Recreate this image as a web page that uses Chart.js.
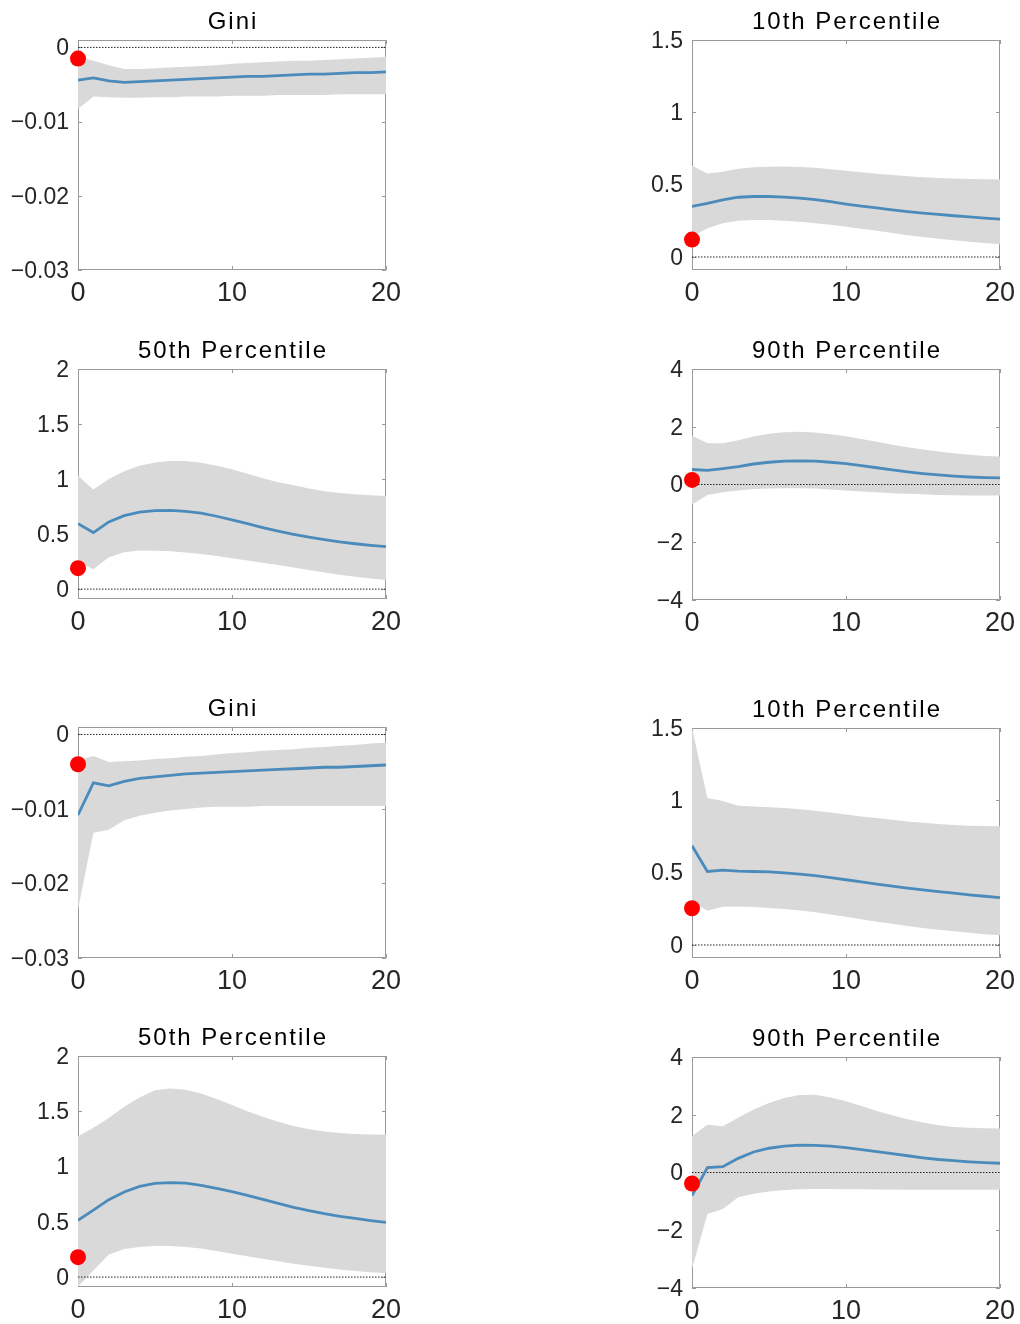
<!DOCTYPE html>
<html>
<head>
<meta charset="utf-8">
<script src="https://cdn.jsdelivr.net/npm/chart.js@4.4.1/dist/chart.umd.min.js"></script>
<style>
  html, body { margin: 0; padding: 0; background: #ffffff; }
  body { width: 1020px; height: 1324px; position: relative; overflow: hidden; }
  canvas.panel { position: absolute; }
</style>
</head>
<body>
<script>
// Horizon (periods after the shock) and axis tick values
const steps = [0, 1, 2, 3, 4, 5, 6, 7, 8, 9, 10, 11, 12, 13, 14, 15, 16, 17, 18, 19, 20];
const stepTicks = [0, 10, 20];
const giniTicks = [-0.03, -0.02, -0.01, 0];
const p10Ticks = [0, 0.5, 1, 1.5];
const p50Ticks = [0, 0.5, 1, 1.5, 2];
const p90Ticks = [-4, -2, 0, 2, 4];

// Upper block: response, band bounds and impact estimate
const giniMidA = [-0.0044, -0.0041, -0.0045, -0.0047, -0.0046, -0.0045, -0.0044, -0.0043, -0.0042, -0.0041, -0.0040, -0.0039, -0.0039, -0.0038, -0.0037, -0.0036, -0.0036, -0.0035, -0.0034, -0.0034, -0.0033];
const giniHiA  = [-0.0012, -0.0018, -0.0024, -0.0029, -0.0029, -0.0028, -0.0027, -0.0026, -0.0025, -0.0024, -0.0022, -0.0021, -0.0020, -0.0019, -0.0018, -0.0018, -0.0017, -0.0016, -0.0015, -0.0014, -0.0013];
const giniLoA  = [-0.0083, -0.0066, -0.0067, -0.0068, -0.0068, -0.0067, -0.0067, -0.0066, -0.0066, -0.0066, -0.0065, -0.0065, -0.0065, -0.0064, -0.0064, -0.0064, -0.0064, -0.0063, -0.0063, -0.0063, -0.0063];
const giniDotA = -0.0015;

const p10MidA = [0.35, 0.37, 0.395, 0.413, 0.418, 0.418, 0.414, 0.407, 0.396, 0.382, 0.366, 0.352, 0.339, 0.326, 0.314, 0.303, 0.294, 0.285, 0.277, 0.269, 0.262];
const p10HiA  = [0.63, 0.577, 0.59, 0.61, 0.62, 0.623, 0.625, 0.622, 0.616, 0.607, 0.596, 0.585, 0.575, 0.566, 0.558, 0.551, 0.546, 0.542, 0.539, 0.537, 0.536];
const p10LoA  = [0.14, 0.198, 0.233, 0.251, 0.256, 0.255, 0.25, 0.243, 0.234, 0.222, 0.209, 0.195, 0.181, 0.166, 0.151, 0.138, 0.126, 0.115, 0.105, 0.096, 0.088];
const p10DotA = 0.12;

const p50MidA = [0.595, 0.514, 0.61, 0.668, 0.70, 0.713, 0.716, 0.707, 0.69, 0.662, 0.629, 0.594, 0.559, 0.527, 0.498, 0.472, 0.45, 0.429, 0.412, 0.397, 0.385];
const p50HiA  = [1.03, 0.905, 1.0, 1.07, 1.12, 1.15, 1.165, 1.165, 1.147, 1.12, 1.088, 1.048, 1.007, 0.972, 0.943, 0.914, 0.89, 0.873, 0.862, 0.853, 0.847];
const p50LoA  = [0.25, 0.18, 0.29, 0.335, 0.35, 0.349, 0.343, 0.333, 0.318, 0.3, 0.281, 0.26, 0.239, 0.218, 0.196, 0.173, 0.151, 0.13, 0.112, 0.096, 0.082];
const p50DotA = 0.19;

const p90MidA = [0.52, 0.49, 0.55, 0.62, 0.71, 0.77, 0.81, 0.82, 0.81, 0.77, 0.72, 0.65, 0.58, 0.51, 0.44, 0.38, 0.33, 0.29, 0.26, 0.24, 0.23];
const p90HiA  = [1.69, 1.43, 1.43, 1.53, 1.66, 1.76, 1.81, 1.83, 1.8, 1.74, 1.67, 1.58, 1.48, 1.38, 1.29, 1.21, 1.14, 1.08, 1.03, 0.99, 0.97];
const p90LoA  = [-0.69, -0.36, -0.27, -0.21, -0.16, -0.14, -0.13, -0.13, -0.14, -0.17, -0.21, -0.24, -0.27, -0.30, -0.32, -0.34, -0.36, -0.37, -0.38, -0.38, -0.38];
const p90DotA = 0.16;

// Lower block
const giniMidB = [-0.0108, -0.0065, -0.0069, -0.0063, -0.0059, -0.0057, -0.0055, -0.0053, -0.0052, -0.0051, -0.0050, -0.0049, -0.0048, -0.0047, -0.0046, -0.0045, -0.0044, -0.0044, -0.0043, -0.0042, -0.0041];
const giniHiB  = [-0.0035, -0.0029, -0.0037, -0.0036, -0.0035, -0.0033, -0.0032, -0.0030, -0.0029, -0.0027, -0.0025, -0.0024, -0.0022, -0.0021, -0.0020, -0.0018, -0.0017, -0.0015, -0.0014, -0.0012, -0.0011];
const giniLoB  = [-0.0235, -0.0132, -0.0128, -0.0115, -0.0109, -0.0105, -0.0102, -0.0100, -0.0098, -0.0097, -0.0097, -0.0097, -0.0096, -0.0096, -0.0096, -0.0096, -0.0096, -0.0096, -0.0096, -0.0096, -0.0096];
const giniDotB = -0.0040;

const p10MidB = [0.686, 0.508, 0.518, 0.51, 0.508, 0.505, 0.499, 0.49, 0.479, 0.465, 0.451, 0.436, 0.421, 0.407, 0.393, 0.381, 0.369, 0.358, 0.347, 0.337, 0.328];
const p10HiB  = [1.5, 1.016, 0.995, 0.963, 0.958, 0.953, 0.947, 0.938, 0.928, 0.915, 0.902, 0.889, 0.877, 0.865, 0.854, 0.845, 0.837, 0.83, 0.825, 0.822, 0.82];
const p10LoB  = [0.30, 0.236, 0.265, 0.266, 0.262, 0.256, 0.248, 0.238, 0.226, 0.211, 0.195, 0.178, 0.161, 0.146, 0.132, 0.118, 0.106, 0.095, 0.085, 0.075, 0.067];
const p10DotB = 0.254;

const p50MidB = [0.514, 0.605, 0.70, 0.77, 0.82, 0.848, 0.855, 0.85, 0.83, 0.803, 0.772, 0.738, 0.703, 0.666, 0.631, 0.6, 0.573, 0.55, 0.53, 0.511, 0.495];
const p50HiB  = [1.275, 1.35, 1.44, 1.54, 1.625, 1.69, 1.707, 1.695, 1.66, 1.61, 1.556, 1.5, 1.45, 1.404, 1.366, 1.338, 1.318, 1.303, 1.294, 1.289, 1.287];
const p50LoB  = [-0.085, 0.06, 0.205, 0.254, 0.272, 0.281, 0.281, 0.273, 0.258, 0.236, 0.211, 0.188, 0.166, 0.143, 0.121, 0.102, 0.085, 0.068, 0.054, 0.044, 0.036];
const p50DotB = 0.18;

const p90MidB = [-0.8, 0.17, 0.2, 0.49, 0.71, 0.84, 0.91, 0.95, 0.94, 0.91, 0.86, 0.79, 0.72, 0.65, 0.58, 0.51, 0.45, 0.41, 0.37, 0.34, 0.32];
const p90HiB  = [1.26, 1.65, 1.6, 1.9, 2.18, 2.41, 2.58, 2.68, 2.69, 2.6, 2.47, 2.3, 2.13, 1.98, 1.84, 1.73, 1.64, 1.58, 1.55, 1.53, 1.52];
const p90LoB  = [-3.33, -1.44, -1.26, -0.86, -0.74, -0.66, -0.61, -0.58, -0.57, -0.57, -0.58, -0.58, -0.59, -0.59, -0.6, -0.6, -0.6, -0.6, -0.6, -0.6, -0.6];
const p90DotB = -0.38;

// Panel layout: column (0 left, 1 right), plot-area top and height in px
const panels = [
  { title: 'Gini',            mid: giniMidA, hi: giniHiA, lo: giniLoA, dot: giniDotA, ticks: giniTicks, yMin: -0.03, yMax: 0.001, col: 0, top: 40,   h: 230 },
  { title: '10th Percentile', mid: p10MidA,  hi: p10HiA,  lo: p10LoA,  dot: p10DotA,  ticks: p10Ticks,  yMin: -0.09, yMax: 1.5,   col: 1, top: 40,   h: 230 },
  { title: '50th Percentile', mid: p50MidA,  hi: p50HiA,  lo: p50LoA,  dot: p50DotA,  ticks: p50Ticks,  yMin: -0.09, yMax: 2,     col: 0, top: 369,  h: 230 },
  { title: '90th Percentile', mid: p90MidA,  hi: p90HiA,  lo: p90LoA,  dot: p90DotA,  ticks: p90Ticks,  yMin: -4,    yMax: 4,     col: 1, top: 369,  h: 231 },
  { title: 'Gini',            mid: giniMidB, hi: giniHiB, lo: giniLoB, dot: giniDotB, ticks: giniTicks, yMin: -0.03, yMax: 0.001, col: 0, top: 727,  h: 231 },
  { title: '10th Percentile', mid: p10MidB,  hi: p10HiB,  lo: p10LoB,  dot: p10DotB,  ticks: p10Ticks,  yMin: -0.09, yMax: 1.5,   col: 1, top: 728,  h: 230 },
  { title: '50th Percentile', mid: p50MidB,  hi: p50HiB,  lo: p50LoB,  dot: p50DotB,  ticks: p50Ticks,  yMin: -0.09, yMax: 2,     col: 0, top: 1056, h: 231 },
  { title: '90th Percentile', mid: p90MidB,  hi: p90HiB,  lo: p90LoB,  dot: p90DotB,  ticks: p90Ticks,  yMin: -4,    yMax: 4,     col: 1, top: 1057, h: 231 }
];

const FONT = '"Liberation Sans", Arial, sans-serif';
const AXIS_GRAY = '#9a9a9a';
const TEXT_GRAY = '#262626';

function fmt(v) {
  if (v === 0) return '0';
  return (v < 0 ? '\u2212' : '') + String(Math.abs(v));
}

function xy(arr) {
  return steps.map((s, i) => ({ x: s, y: arr[i] }));
}

// Axes box with inward tick marks (beneath the data) and the panel title
const boxPlugin = {
  id: 'matBox',
  beforeDatasetsDraw(chart) {
    const { ctx, chartArea: a, scales } = chart;
    ctx.save();
    ctx.strokeStyle = AXIS_GRAY;
    ctx.lineWidth = 1;
    ctx.beginPath();
    ctx.rect(a.left + 0.5, a.top + 0.5, a.right - a.left - 1, a.bottom - a.top - 1);
    const tl = 4;
    scales.y.ticks.forEach(t => {
      const y = Math.round(scales.y.getPixelForValue(t.value)) + 0.5;
      ctx.moveTo(a.left, y); ctx.lineTo(a.left + tl, y);
      ctx.moveTo(a.right, y); ctx.lineTo(a.right - tl, y);
    });
    scales.x.ticks.forEach(t => {
      const x = Math.round(scales.x.getPixelForValue(t.value)) + 0.5;
      ctx.moveTo(x, a.bottom); ctx.lineTo(x, a.bottom - tl);
      ctx.moveTo(x, a.top); ctx.lineTo(x, a.top + tl);
    });
    ctx.stroke();
    ctx.restore();
  },
  afterDraw(chart) {
    const { ctx, chartArea: a } = chart;
    const title = chart.options.plugins.panelTitle.text;
    ctx.save();
    ctx.fillStyle = '#000000';
    ctx.font = '24px ' + FONT;
    if ('letterSpacing' in ctx) ctx.letterSpacing = '2px';
    ctx.textAlign = 'center';
    ctx.textBaseline = 'alphabetic';
    ctx.fillText(title, (a.left + a.right) / 2 + 1, a.top - 11);
    ctx.restore();
  }
};

function build() {
  panels.forEach(p => {
    const canvas = document.createElement('canvas');
    canvas.className = 'panel';
    const left = p.col === 0 ? 0 : 614;
    const width = p.col === 0 ? 400 : 406;
    const rightPad = p.col === 0 ? 14 : 20;
    const height = 40 + p.h + 40;
    canvas.width = width;
    canvas.height = height;
    canvas.style.left = left + 'px';
    canvas.style.top = (p.top - 40) + 'px';
    canvas.style.width = width + 'px';
    canvas.style.height = height + 'px';
    document.body.appendChild(canvas);

    new Chart(canvas.getContext('2d'), {
      type: 'line',
      data: {
        datasets: [
          { label: 'impact', data: [{ x: 0, y: p.dot }], showLine: false, pointRadius: 8,
            pointBackgroundColor: '#ff0000', pointBorderWidth: 0, clip: false, order: 0 },
          { label: 'response', data: xy(p.mid), borderColor: '#4a8bbb', borderWidth: 2.8,
            pointRadius: 0, fill: false, tension: 0, order: 1 },
          { label: 'zero', data: [{ x: 0, y: 0 }, { x: 20, y: 0 }], borderColor: '#222222',
            borderWidth: 1, borderDash: [1.5, 1.5], pointRadius: 0, fill: false, order: 2 },
          { label: 'upper', data: xy(p.hi), borderWidth: 0, borderColor: 'rgba(0,0,0,0)',
            pointRadius: 0, backgroundColor: '#d9d9d9', fill: '+1', order: 3 },
          { label: 'lower', data: xy(p.lo), borderWidth: 0, borderColor: 'rgba(0,0,0,0)',
            pointRadius: 0, fill: false, order: 4 }
        ]
      },
      options: {
        responsive: false,
        animation: false,
        events: [],
        layout: { padding: { top: 40, right: rightPad, left: 0, bottom: 0 } },
        plugins: {
          legend: { display: false },
          tooltip: { enabled: false },
          title: { display: false },
          panelTitle: { text: p.title }
        },
        scales: {
          x: {
            type: 'linear', min: 0, max: 20,
            afterBuildTicks: s => { s.ticks = stepTicks.map(v => ({ value: v })); },
            afterFit: s => { s.height = 40; s.paddingLeft = 0; s.paddingRight = 0; },
            grid: { display: false, drawTicks: false },
            border: { display: false },
            ticks: { padding: 7, maxRotation: 0, color: TEXT_GRAY,
                     font: { family: FONT, size: 27 }, callback: v => fmt(v) }
          },
          y: {
            type: 'linear', min: p.yMin, max: p.yMax,
            afterBuildTicks: s => { s.ticks = p.ticks.map(v => ({ value: v })); },
            afterFit: s => { s.width = 78; s.paddingTop = 0; s.paddingBottom = 0; },
            grid: { display: false, drawTicks: false },
            border: { display: false },
            ticks: { padding: 9, labelOffset: 1.5, color: TEXT_GRAY,
                     font: { family: FONT, size: 23 }, callback: v => fmt(v) }
          }
        }
      },
      plugins: [boxPlugin]
    });
  });
}

if (document.fonts && document.fonts.load) {
  document.fonts.load('22px "Liberation Sans"').then(build, build);
} else {
  build();
}
</script>
</body>
</html>
